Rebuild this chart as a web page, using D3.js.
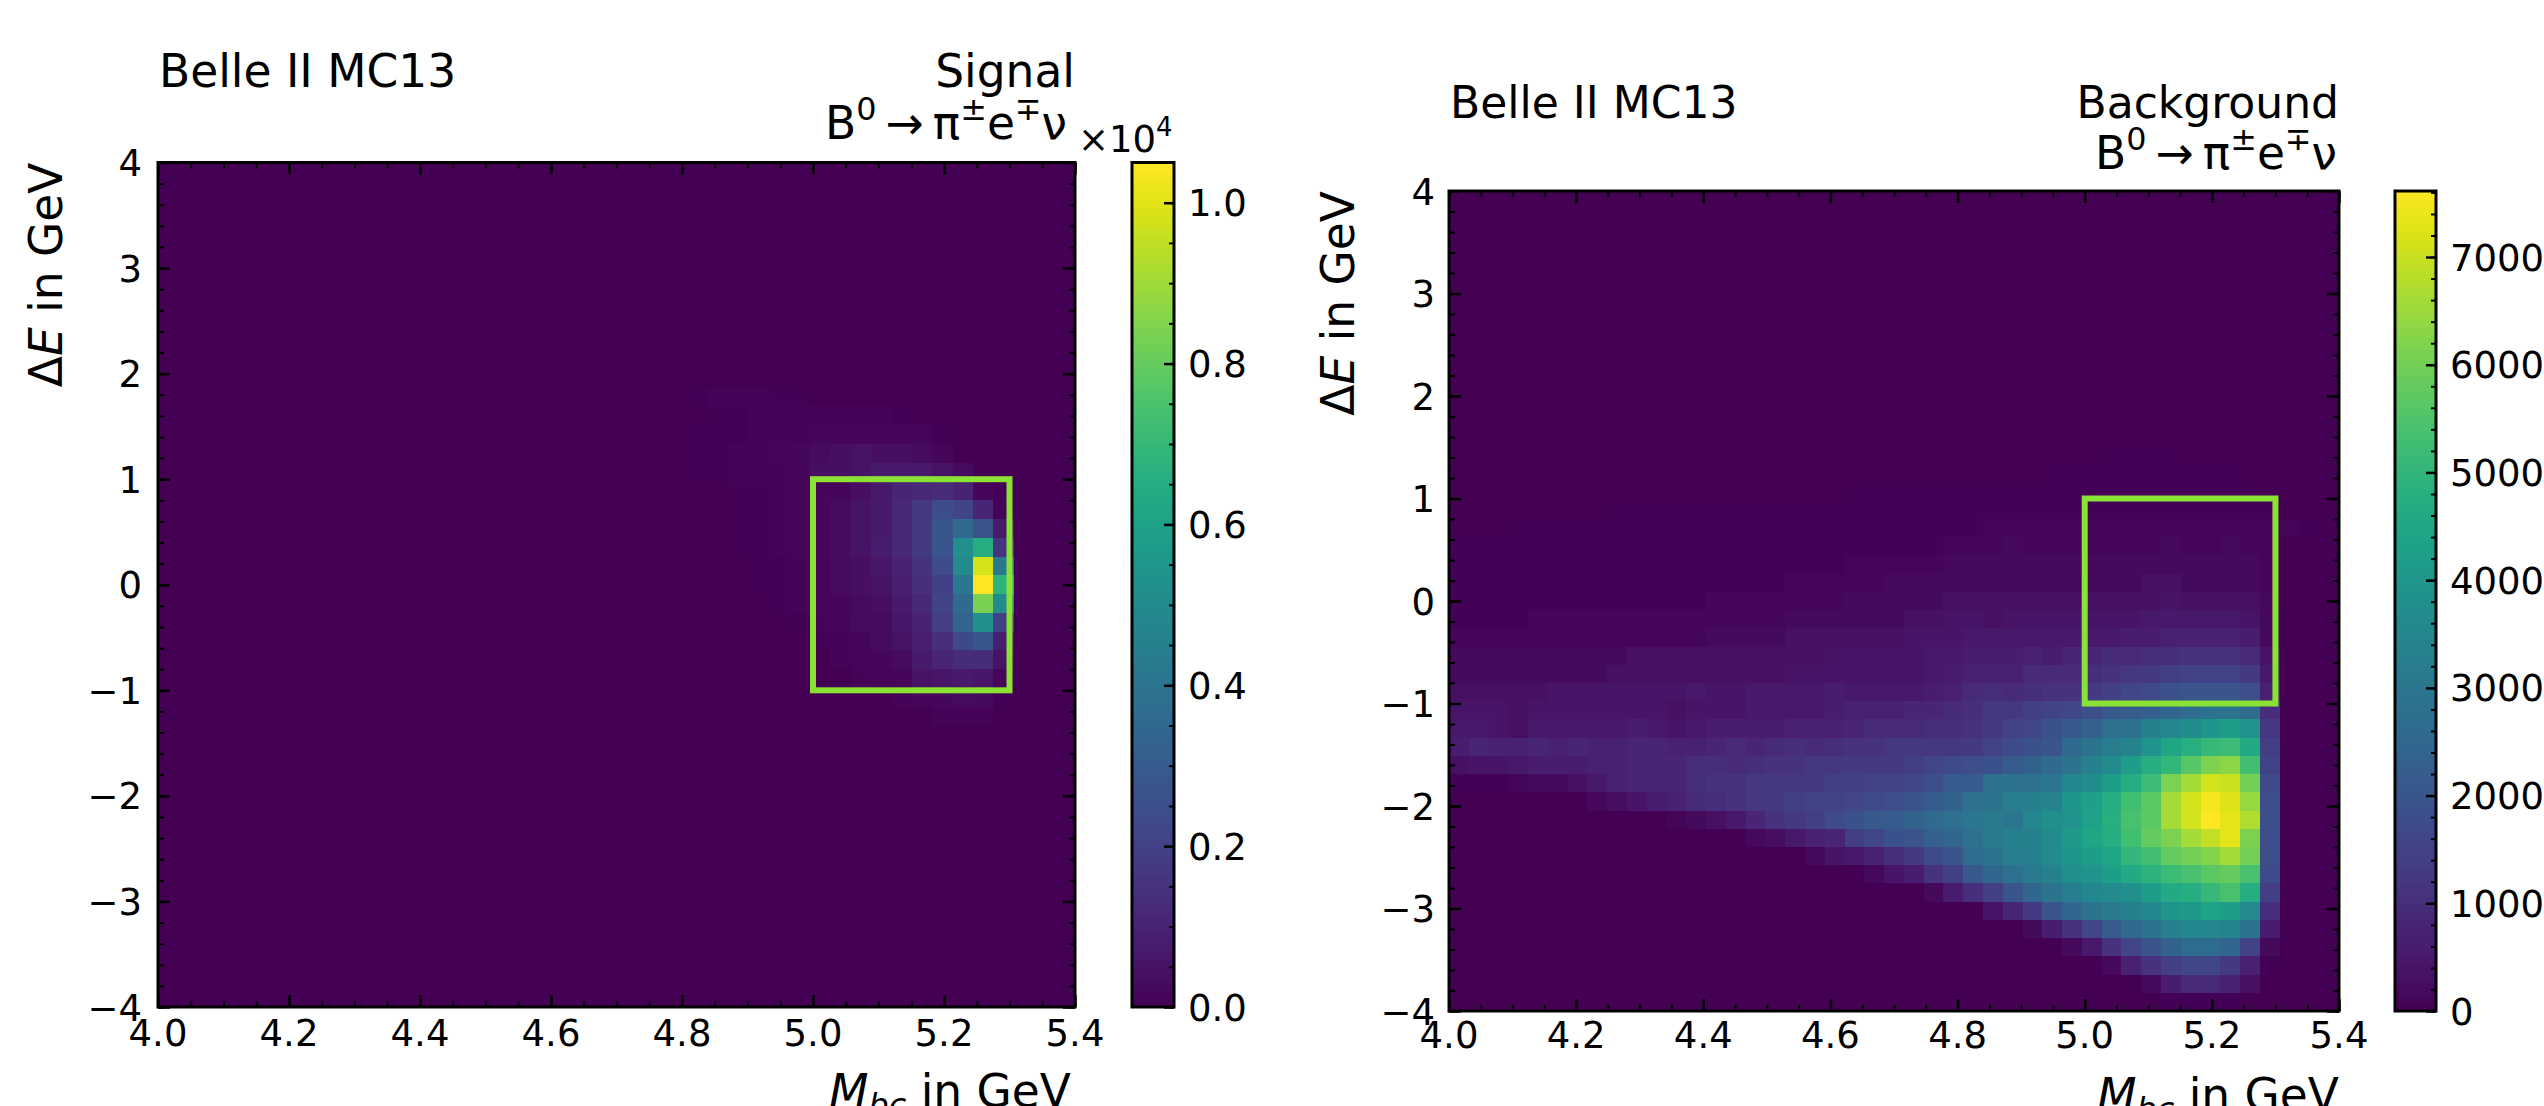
<!DOCTYPE html>
<html lang="en">
  <head>
    <meta charset="UTF-8" />
    <title>Belle II MC13 - Signal and Background</title>
    <script src="https://cdn.jsdelivr.net/npm/d3@7"></script>
    <style>
      body { margin: 0; background: #fff; }
      svg { display: block; }
      text { font-family: "DejaVu Sans", sans-serif; fill: #000; }
    </style>
  </head>

  <body>
    <svg id="chart" width="2544" height="1106"></svg>

    <script>
      // zero run, to keep the empty part of a histogram row short
      function z(n) { return new Array(n).fill(0); }

      var binCount = 45;
      var xTicks = [4.0, 4.2, 4.4, 4.6, 4.8, 5.0, 5.2, 5.4];
      var yTicks = [-4, -3, -2, -1, 0, 1, 2, 3, 4];
      var signalBarTicks = [0, 0.2, 0.4, 0.6, 0.8, 1.0];
      var backgroundBarTicks = [0, 1000, 2000, 3000, 4000, 5000, 6000, 7000];
      var signalMax = 10500;
      var backgroundMax = 7613;
      var signalBox = [5.0, 5.3, -1, 1];

      // Entries per bin in hundreds.
      // Row index = Delta E bin counted from the bottom, column = Mbc bin.
      var signalRows = [
        [], [], [], [], [], [], [], [], [], [], [], [], [], [], [],
        [...z(38), 1, 1, 1],
        [...z(36), 1, 2, 2, 3, 2.5, 0.5],
        [...z(34), 1, 1.5, 2, 5, 6, 7, 6, 2],
        [...z(33), 1, 1.5, 2, 3, 7, 11, 13, 13, 5],
        [...z(32), 0.5, 1, 1.5, 3, 5, 9, 14, 23, 28, 9],
        [...z(31), 0.5, 1, 1.5, 3, 3, 6, 10, 19, 34, 52, 20],
        [...z(30), 0.5, 1, 1.5, 2, 3, 4, 7, 12, 21, 36, 84, 50],
        [...z(29), 0.5, 0.5, 1, 1.5, 3, 4, 5, 9, 14, 20, 42, 105, 68],
        [...z(29), 0.5, 0.5, 1, 1.5, 3, 4, 6, 10, 15, 24, 50, 98, 42],
        [...z(28), 0.5, 0.5, 1, 1.5, 2, 3, 5, 8, 12, 18, 28, 52, 65, 16],
        [...z(28), 0.5, 0.5, 1, 1.5, 2, 3, 5, 7, 12, 18, 28, 36, 27, 7],
        [...z(28), 0.5, 0.5, 1, 1.5, 2, 3, 5, 7, 12, 17, 24, 21, 11, 1],
        [...z(28), 0.5, 0.5, 1, 1.5, 2, 2, 4, 7, 11, 12, 13, 10, 2, 0.5],
        [...z(26), 0.5, 0.5, 1, 1, 1, 2, 4, 4, 5, 7, 7, 7, 5, 3],
        [...z(26), 0.5, 0.5, 1, 1, 1.5, 2, 3, 4, 5, 4, 4, 3, 1.5],
        [...z(26), 0.5, 0.5, 0.5, 1, 1, 1, 2, 2, 2, 2, 2, 1.5, 0.5],
        [...z(27), 0.5, 0.5, 1, 1, 1, 1, 1, 1, 1, 0.5],
        [...z(26), 0.5, 1, 1, 1, 0.5, 0.5],
        [...z(24), 0.3, 0.3, 0.3],
      ];

      var backgroundRows = [
        [...z(36), 0.5, 0.5, 0.5, 0.5],
        [...z(35), 2, 6, 9, 9, 7, 3],
        [...z(33), 1.5, 7, 11, 14, 16, 16, 13, 7, 0.5],
        [...z(31), 2, 5, 11, 16, 20, 24, 27, 27, 25, 15, 2],
        [...z(29), 2, 6, 11, 16, 22, 26, 29, 33, 35, 35, 34, 29, 6],
        [...z(27), 4, 8, 13, 20, 25, 29, 31, 33, 35, 40, 41, 44, 42, 36, 10],
        [...z(24), 2, 6, 10, 14, 20, 25, 29, 32, 35, 36, 38, 42, 46, 47, 51, 54, 47, 14],
        [...z(21), 1.5, 4, 6, 11, 14, 21, 25, 28, 31, 33, 38, 39, 42, 46, 49, 52, 54, 57, 58, 54, 17],
        [...z(18), 1.5, 4, 5, 7, 10, 13, 17, 20, 27, 29, 32, 33, 36, 40, 42, 45, 50, 53, 58, 60, 62, 66, 60, 18],
        [...z(15), 1.5, 2.5, 5, 7, 8, 14, 16, 19, 20, 23, 25, 28, 31, 33, 33, 36, 41, 45, 47, 53, 58, 61, 66, 69, 73, 61, 18],
        [...z(11), 1, 2, 3, 5, 8, 11, 12, 14, 17, 19, 21, 22, 24, 26, 28, 30, 31, 30, 35, 38, 39, 44, 48, 54, 57, 66, 71, 76, 73, 67, 18],
        [...z(7), 1.5, 2.5, 4, 6, 7, 9, 10, 11, 12, 13, 14, 15, 15, 16, 17, 18, 20, 22, 24, 28, 29, 32, 33, 34, 40, 43, 47, 53, 57, 66, 71, 75, 72, 64, 18],
        [0.5, 0.5, 0.5, 1, 2, 2, 3, 5, 7, 8, 8, 8, 10, 11, 11, 12, 12, 12, 13, 14, 14, 15, 15, 16, 18, 22, 22, 28, 29, 28, 30, 35, 37, 42, 47, 52, 61, 66, 71, 70, 60, 17],
        [3, 4, 4, 5, 6, 6, 6, 7, 7, 8, 8, 8, 10, 10, 9, 10, 11, 11, 12, 12, 13, 13, 13, 14, 16, 17, 18, 19, 22, 24, 26, 29, 33, 36, 42, 47, 50, 56, 61, 63, 53, 15],
        [6, 8, 7, 7, 8, 7, 8, 7, 7, 8, 8, 7, 7, 8, 9, 8, 9, 10, 9, 10, 11, 11, 12, 12, 12, 12, 13, 15, 17, 19, 20, 26, 29, 32, 34, 39, 45, 48, 51, 52, 46, 14],
        [5, 5, 4, 3, 5, 5, 5, 5, 5, 6, 5, 4, 5, 6, 6, 6, 6, 7, 7, 7, 8, 9, 9, 9, 10, 10, 11, 13, 15, 16, 19, 21, 24, 28, 28, 33, 35, 37, 40, 42, 39, 12],
        [4, 4, 4, 3, 4, 4, 4, 4, 4, 4, 4, 3, 4, 4, 4, 5, 5, 5, 5, 6, 7, 7, 7, 8, 8, 9, 10, 12, 12, 14, 15, 16, 18, 21, 22, 23, 25, 27, 29, 29, 26, 10],
        [3, 3, 3, 3, 3, 4, 4, 4, 4, 4, 4, 4, 5, 4, 4, 5, 5, 5, 5, 6, 5, 5, 5, 5, 6, 7, 9, 10, 9, 10, 11, 11, 13, 14, 16, 17, 19, 20, 20, 20, 18, 7],
        [2, 2, 2, 2, 2, 2, 2, 2, 3, 3, 3, 3, 3, 3, 3, 3, 3, 4, 4, 4, 4, 4, 4, 4, 5, 6, 7, 7, 7, 9, 9, 9, 10, 11, 12, 13, 14, 15, 15, 15, 13, 5],
        [2, 2, 2, 2, 2, 2, 2, 2, 2, 3, 3, 3, 3, 3, 3, 3, 3, 3, 3, 4, 4, 4, 4, 4, 5, 5, 6, 6, 6, 7, 6, 8, 8, 9, 9, 10, 10, 11, 11, 11, 9, 4],
        [1, 1, 1, 1, 1, 1, 1, 1, 1, 1, 1, 1, 1, 2, 2, 2, 2, 3, 3, 3, 3, 3, 3, 4, 4, 4, 5, 5, 5, 5, 5, 5, 5, 5, 6, 6, 7, 7, 7, 7, 6, 2],
        [0.5, 0.5, 0.5, 0.5, 1, 1, 1, 1, 1, 1, 1, 1, 1, 1, 1, 1, 1, 2, 2, 2, 2, 2, 2, 3, 3, 4, 4, 3, 4, 4, 4, 4, 4, 4, 4, 5, 5, 5, 5, 5, 4, 2],
        [0.5, 0.5, 0.5, 0.5, 0.5, 0.5, 0.5, 0.5, 0.5, 0.5, 0.5, 0.5, 0.5, 1, 1, 1, 1, 1, 1, 1, 2, 2, 2, 2, 2, 3, 3, 3, 3, 3, 3, 3, 3, 3, 3, 3, 4, 3, 3, 3, 3, 1.5],
        [0.5, 0.5, 0.5, 0.5, 0.5, 0.5, 0.5, 0.5, 0.5, 0.5, 0.5, 0.5, 0.5, 0.5, 0.5, 0.5, 0.5, 1, 1, 1, 1, 1, 2, 2, 2, 2, 2, 2, 2, 2, 2, 2, 2, 2, 2, 3, 3, 2, 2, 2, 2, 1],
        [0.5, 0.5, 0.5, 0.5, 0.5, 0.5, 0.5, 0.5, 0.5, 0.5, 0.5, 0.5, 0.5, 0.5, 0.5, 0.5, 0.5, 0.5, 0.5, 0.5, 1, 1, 1, 1, 1, 1.5, 1.5, 1.5, 1.5, 1.5, 1.5, 1.5, 2, 2, 2, 2, 2, 2, 2, 2, 2, 1],
        [0.5, 0.5, 0.5, 0.5, 0.5, 0.5, 0.5, 0.5, 0.5, 0.5, 0.5, 0.5, 0.5, 0.5, 0.5, 0.5, 0.5, 0.5, 0.5, 0.5, 0.5, 0.5, 0.5, 0.5, 0.5, 1, 1, 1, 1.5, 1, 1, 1, 1, 1, 1, 1, 1.5, 1, 1, 1.5, 1, 1],
        [...z(3), 0.5, 0.5, 0.5, 0.5, 0.5, 0.5, 0.5, 0.5, 0.5, 0.5, 0.5, 0.5, 0.5, 0.5, 0.5, 0.5, 0.5, 0.5, 0.5, 0.5, 0.5, 0.5, 0.5, 0.5, 1, 1, 1, 1, 1, 1, 1, 1, 1, 1, 1, 1, 1, 1, 1, 1, 0.5],
        [...z(8), 0.5, 0.5, 0.5, 0.5, 0.5, 0.5, 0.5, 0.5, 0.5, 0.5, 0.5, 0.5, 0.5, 0.5, 0.5, 0.5, 0.5, 0.5, 0.5, 0.5, 0.5, 0.5, 0.5, 0.5, 0.5, 0.5, 0.5, 0.5, 0.5, 0.5, 0.5, 0.5, 0.5, 0.5],
        [...z(20), 0.3, 0.3, 0.3, 0.3, 0.3, 0.3, 0.3, 0.3, 0.3, 0.3, 0.3, 0.3, 0.3, 0.3, 0.3, 0.3, 0.3, 0.3, 0.5, 0.5, 0.3],
        [...z(30), 0.3, 0.3, 0.3, 0.3, 0.3, 0.5, 0.5, 0.3, 0.3, 0.3],
        [...z(33), 0.3, 0.3, 0.3, 0.3],
      ];

      var svg = d3.select("#chart");
      var labelSize = 45.5;
      var tickSize = 37;

      // text with italic, super and subscript pieces, as real text
      function richText(g, x, y, parts, size, anchor, rotate) {
        var t = g
          .append("text")
          .attr("font-size", size)
          .attr("text-anchor", anchor)
          .attr(
            "transform",
            "translate(" + x + "," + y + ")" + (rotate ? " rotate(-90)" : "")
          );
        var shift = 0;
        parts.forEach(function (p) {
          var target = p.sup ? -0.42 * size : p.sub ? 0.2 * size : 0;
          t.append("tspan")
            .attr("dy", target - shift)
            .attr("font-size", p.sup || p.sub ? size * 0.7 : size)
            .attr("font-style", p.it ? "italic" : "normal")
            .style("white-space", "pre")
            .text(p.t);
          shift = target;
        });
        return t;
      }

      var decay = [
        { t: "B" },
        { t: "0", sup: true },
        { t: "\u2009\u2192\u2009" },
        { t: "\u03c0" },
        { t: "\u00b1", sup: true },
        { t: "e" },
        { t: "\u2213", sup: true },
        { t: "\u03bd" },
      ];

      function drawPanel(cfg) {
        var g = svg.append("g");
        var x = d3.scaleLinear().domain([4, 5.4]).range([cfg.left, cfg.right]);
        var y = d3.scaleLinear().domain([-4, 4]).range([cfg.bottom, cfg.top]);
        var color = d3
          .scaleSequential(d3.interpolateViridis)
          .domain([0, cfg.max]);

        var xEdges = d3.range(binCount + 1).map((i) => 4 + (i * 1.4) / binCount);
        var yEdges = d3.range(binCount + 1).map((i) => -4 + (i * 8) / binCount);

        // histogram cells
        var cells = [];
        d3.range(binCount).forEach(function (r) {
          d3.range(binCount).forEach(function (c) {
            var row = cfg.rows[r] || [];
            cells.push({ r: r, c: c, v: (row[c] || 0) * 100 });
          });
        });
        g.append("g")
          .attr("shape-rendering", "crispEdges")
          .selectAll("rect")
          .data(cells)
          .join("rect")
          .attr("x", (d) => x(xEdges[d.c]))
          .attr("y", (d) => y(yEdges[d.r + 1]))
          .attr("width", (d) => x(xEdges[d.c + 1]) - x(xEdges[d.c]))
          .attr("height", (d) => y(yEdges[d.r]) - y(yEdges[d.r + 1]))
          .attr("fill", (d) => color(d.v));

        // signal box
        g.append("rect")
          .attr("x", x(signalBox[0]))
          .attr("y", y(signalBox[3]))
          .attr("width", x(signalBox[1]) - x(signalBox[0]))
          .attr("height", y(signalBox[2]) - y(signalBox[3]))
          .attr("fill", "none")
          .attr("stroke", "#8ae234")
          .attr("stroke-width", 6);

        // ticks on all four sides, pointing in
        var xMinor = d3.range(4, 5.4001, 0.05);
        var yMinor = d3.range(-4, 4.001, 0.2);
        function ticks(axis, vals, size, width, transform) {
          var a = g
            .append("g")
            .attr("transform", transform)
            .call(axis.tickValues(vals).tickSize(size).tickFormat(""));
          a.select(".domain").remove();
          a.selectAll("line").attr("stroke", "#000").attr("stroke-width", width);
          return a;
        }
        var tb = "translate(0," + cfg.bottom + ")";
        var tt = "translate(0," + cfg.top + ")";
        var tl = "translate(" + cfg.left + ",0)";
        var tr = "translate(" + cfg.right + ",0)";
        ticks(d3.axisTop(x), xMinor, 6, 2, tb);
        ticks(d3.axisBottom(x), xMinor, 6, 2, tt);
        ticks(d3.axisRight(y), yMinor, 6, 2, tl);
        ticks(d3.axisLeft(y), yMinor, 6, 2, tr);
        ticks(d3.axisTop(x), xTicks, 12, 2.5, tb);
        ticks(d3.axisBottom(x), xTicks, 12, 2.5, tt);
        ticks(d3.axisRight(y), yTicks, 12, 2.5, tl);
        ticks(d3.axisLeft(y), yTicks, 12, 2.5, tr);

        g.append("rect")
          .attr("x", cfg.left)
          .attr("y", cfg.top)
          .attr("width", cfg.right - cfg.left)
          .attr("height", cfg.bottom - cfg.top)
          .attr("fill", "none")
          .attr("stroke", "#000")
          .attr("stroke-width", 3);

        // tick labels
        xTicks.forEach(function (v) {
          g.append("text")
            .attr("x", x(v))
            .attr("y", cfg.xLabelBase)
            .attr("font-size", tickSize)
            .attr("text-anchor", "middle")
            .text(d3.format(".1f")(v));
        });
        yTicks.forEach(function (v) {
          g.append("text")
            .attr("x", cfg.left - cfg.yLabelPad)
            .attr("y", y(v) + 13.5)
            .attr("font-size", tickSize)
            .attr("text-anchor", "end")
            .text(String(v).replace("-", "\u2212"));
        });

        // colour bar
        var barY = d3
          .scaleLinear()
          .domain([0, cfg.max])
          .range([cfg.bottom, cfg.top]);
        var barSteps = d3.range(256).map((i) => (i * cfg.max) / 256);
        g.append("g")
          .attr("shape-rendering", "crispEdges")
          .selectAll("rect")
          .data(barSteps)
          .join("rect")
          .attr("x", cfg.barLeft)
          .attr("width", cfg.barRight - cfg.barLeft)
          .attr("y", (d) => barY(d + cfg.max / 256))
          .attr("height", (d) => barY(d) - barY(d + cfg.max / 256) + 1)
          .attr("fill", (d) => color(d));

        var tBar = "translate(" + cfg.barRight + ",0)";
        ticks(
          d3.axisLeft(barY),
          d3.range(0, cfg.max, cfg.barMinorStep),
          5,
          2,
          tBar
        );
        ticks(
          d3.axisLeft(barY),
          cfg.barTicks.map((v) => v * cfg.barScale),
          10,
          2.5,
          tBar
        );
        g.append("rect")
          .attr("x", cfg.barLeft)
          .attr("y", cfg.top)
          .attr("width", cfg.barRight - cfg.barLeft)
          .attr("height", cfg.bottom - cfg.top)
          .attr("fill", "none")
          .attr("stroke", "#000")
          .attr("stroke-width", 3);
        cfg.barTicks.forEach(function (v) {
          g.append("text")
            .attr("x", cfg.barRight + 14)
            .attr("y", barY(v * cfg.barScale) + 13.5)
            .attr("font-size", tickSize)
            .text(d3.format(cfg.barFormat)(v));
        });

        // titles and axis labels
        g.append("text")
          .attr("x", cfg.left + 1)
          .attr("y", cfg.titleBase)
          .attr("font-size", cfg.belleSize)
          .text("Belle II MC13");
        g.append("text")
          .attr("x", cfg.right)
          .attr("y", cfg.titleBase)
          .attr("font-size", cfg.nameSize)
          .attr("text-anchor", "end")
          .text(cfg.name);
        richText(
          g,
          cfg.right - cfg.decayShift,
          cfg.decayBase,
          decay,
          labelSize,
          "end"
        );

        richText(
          g,
          cfg.right - cfg.xTitleShift,
          cfg.bottom + 100,
          [
            { t: "M", it: true },
            { t: "bc", it: true, sub: true },
            { t: " in GeV" },
          ],
          labelSize,
          "end"
        );
        richText(
          g,
          cfg.yTitleX,
          cfg.top,
          [{ t: "\u0394" }, { t: "E", it: true }, { t: " in GeV" }],
          labelSize,
          "end",
          true
        );
      }

      drawPanel({
        name: "Signal",
        nameSize: 45.5,
        belleSize: 45.5,
        rows: signalRows,
        max: signalMax,
        left: 158,
        right: 1075,
        top: 162.5,
        bottom: 1007,
        barLeft: 1132,
        barRight: 1174,
        barTicks: signalBarTicks,
        barScale: 10000,
        barFormat: ".1f",
        barMinorStep: 500,
        xLabelBase: 1046,
        yLabelPad: 16,
        titleBase: 87,
        decayBase: 139,
        decayShift: 8,
        xTitleShift: 4,
        yTitleX: 62,
      });

      drawPanel({
        name: "Background",
        nameSize: 44,
        belleSize: 44,
        rows: backgroundRows,
        max: backgroundMax,
        left: 1449,
        right: 2339,
        top: 191,
        bottom: 1011,
        barLeft: 2395,
        barRight: 2436,
        barTicks: backgroundBarTicks,
        barScale: 1,
        barFormat: "d",
        barMinorStep: 200,
        xLabelBase: 1048,
        yLabelPad: 14,
        titleBase: 118,
        decayBase: 169,
        decayShift: 2,
        xTitleShift: 0,
        yTitleX: 1354,
      });

      // offset text of the signal colour bar
      richText(
        svg,
        1078,
        152,
        [{ t: "\u00d710" }, { t: "4", sup: true }],
        tickSize,
        "start"
      );
    </script>
  </body>
</html>
